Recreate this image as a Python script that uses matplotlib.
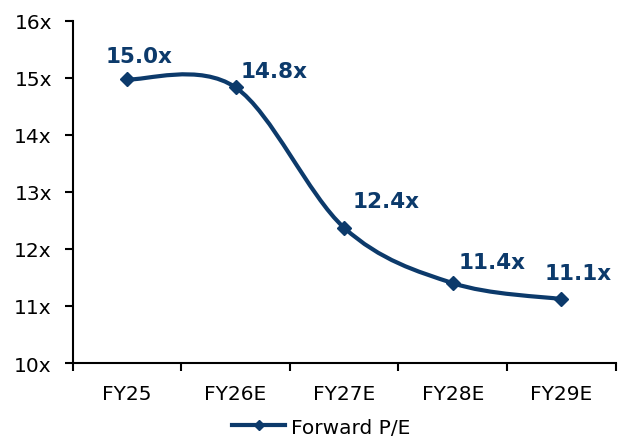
import matplotlib
matplotlib.use("Agg")
import matplotlib.pyplot as plt
import numpy as np
from matplotlib.lines import Line2D
from matplotlib.patches import PathPatch
from matplotlib.path import Path

years = ["FY25", "FY26E", "FY27E", "FY28E", "FY29E"]
forward_pe = [14.97, 14.83, 12.37, 11.40, 11.12]
pe_labels = ["15.0x", "14.8x", "12.4x", "11.4x", "11.1x"]
y_ticks = [10, 11, 12, 13, 14, 15, 16]

NAVY = "#0c3a6b"
# label offsets (points) from each marker to the label centre, as placed in the source
label_offsets = [(9, 17), (28, 12), (30, 19), (28, 15), (12, 19)]


def smooth_path(xs, ys):
    """Excel-style smoothed line: Catmull-Rom segments as cubic Beziers."""
    pts = np.column_stack([xs, ys]).astype(float)
    verts = [pts[0]]
    codes = [Path.MOVETO]
    n = len(pts)
    for i in range(n - 1):
        prev = pts[i - 1] if i > 0 else pts[i]
        nxt = pts[i + 2] if i + 2 < n else pts[i + 1]
        c1 = pts[i] + (pts[i + 1] - prev) / 6
        c2 = pts[i + 1] - (nxt - pts[i]) / 6
        verts += [c1, c2, pts[i + 1]]
        codes += [Path.CURVE4] * 3
    return Path(verts, codes)


def main():
    fig = plt.figure(figsize=(6.18, 4.39), dpi=100)
    ax = fig.add_axes([0.1176, 0.1708, 0.9963 - 0.1176, 0.9506 - 0.1708])

    x = np.arange(len(years))
    ax.add_patch(PathPatch(smooth_path(x, forward_pe), fill=False,
                           edgecolor=NAVY, lw=3, capstyle="round", zorder=3))
    ax.plot(x, forward_pe, ls="none", marker="D", ms=7, color=NAVY, zorder=4)

    for xi, yi, text, off in zip(x, forward_pe, pe_labels, label_offsets):
        ax.annotate(text, (xi, yi), xytext=off, textcoords="offset points",
                    ha="center", va="center", fontsize=15.5, fontweight="bold",
                    color=NAVY)

    ax.set_xlim(-0.5, len(years) - 0.5)
    ax.set_ylim(y_ticks[0], y_ticks[-1])
    ax.set_yticks(y_ticks)
    ax.set_yticklabels([f"{t}x" for t in y_ticks])
    ax.set_xticks(x)
    ax.set_xticklabels(years)
    ax.set_xticks(np.arange(len(years) + 1) - 0.5, minor=True)

    ax.tick_params(axis="x", which="major", length=0, pad=15, labelsize=14.5)
    ax.tick_params(axis="x", which="minor", length=6, width=1.5, direction="out")
    ax.tick_params(axis="y", length=6, width=1.5, pad=9, labelsize=14.5)

    for side in ("top", "right"):
        ax.spines[side].set_visible(False)
    for side in ("left", "bottom"):
        ax.spines[side].set_linewidth(1.5)

    handle = Line2D([], [], color=NAVY, lw=3, marker="D", ms=5)
    fig.legend([handle], ["Forward P/E"], loc="center",
               bbox_to_anchor=(0.52, 0.025), frameon=False, fontsize=14.5,
               handlelength=2.6, handletextpad=0.3)

    fig.savefig("out.png", dpi=100, facecolor="white")


if __name__ == "__main__":
    main()
